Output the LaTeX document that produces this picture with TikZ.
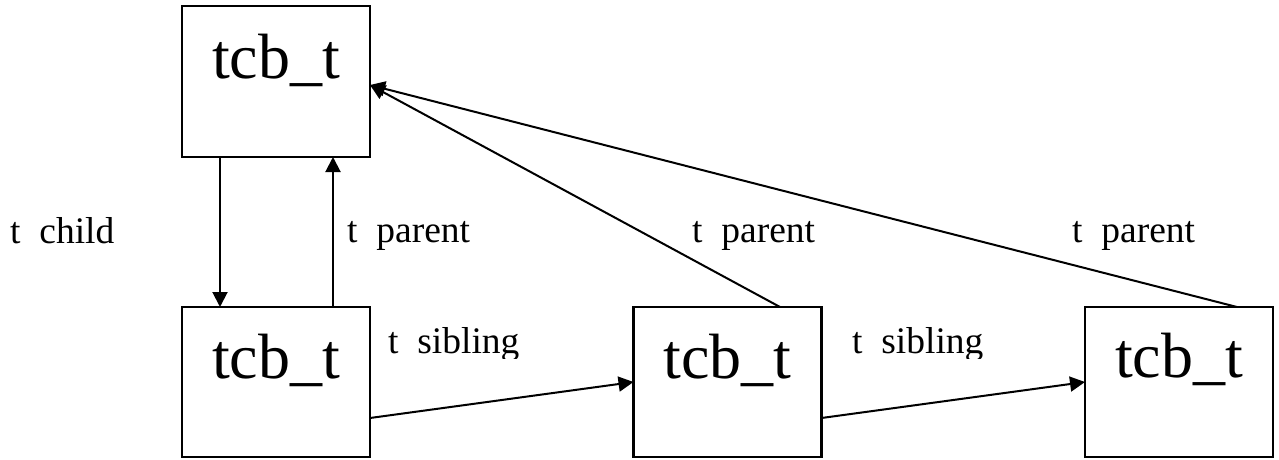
\documentclass[tikz,border=0pt]{standalone}
\usepackage{fontspec}
\setmainfont{Liberation Serif}
\usetikzlibrary{arrows.meta}
\begin{document}
\begin{tikzpicture}[x=1pt,y=1pt,
  box/.style={draw,line width=2.2pt,minimum width=188pt,minimum height=150pt,inner sep=0pt,outer sep=0pt},
  big/.style={font=\fontsize{64}{70}\selectfont,anchor=base,inner sep=0pt},
  lab/.style={font=\fontsize{37.5}{42}\selectfont,anchor=base west,inner sep=0pt},
  arr/.style={line width=2pt,-{Triangle[length=15pt,width=15pt]}}]
\useasboundingbox (0,0) rectangle (1279,459);
\node[box,minimum height=151pt] (top) at (276,377.5) {};
\node[box] (b1) at (276,77) {};
\node[box] (b2) at (727.5,77) {};
\node[box] (b3) at (1179,77) {};
\node[big] (ttop) at ([yshift=-72pt]top.north) {tcb\_t};
\node[big] (tb1) at ([yshift=-71pt]b1.north) {tcb\_t};
\node[big] (tb2) at ([yshift=-71pt]b2.north) {tcb\_t};
\node[big] (tb3) at ([yshift=-70pt]b3.north) {tcb\_t};
\draw[arr] ([xshift=-56pt]top.south) -- ([xshift=-56pt]b1.north);
\draw[arr] ([xshift=57pt]b1.north) -- ([xshift=57pt]top.south);
\draw[arr] ([xshift=52.5pt]b2.north) -- ([yshift=-3.5pt]top.east);
\draw[arr] ([xshift=58pt]b3.north) -- ([yshift=-3.5pt]top.east);
\draw[arr] ([yshift=-36pt]b1.east) -- (b2.west);
\draw[arr] ([yshift=-36pt]b2.east) -- (b3.west);
\node[lab] (lc) at (10,216) {t\phantom{\_}child};
\node[lab] (lp1) at (347,217) {t\phantom{\_}parent};
\node[lab] (lp2) at (692,217) {t\phantom{\_}parent};
\node[lab] (lp3) at (1072,217) {t\phantom{\_}parent};
\begin{scope}
\clip (0,101) rectangle (1279,459);
\node[lab] (ls1) at (388,106) {t\phantom{\_}sibling};
\node[lab] (ls2) at (852,106) {t\phantom{\_}sibling};
\end{scope}
\end{tikzpicture}
\end{document}
